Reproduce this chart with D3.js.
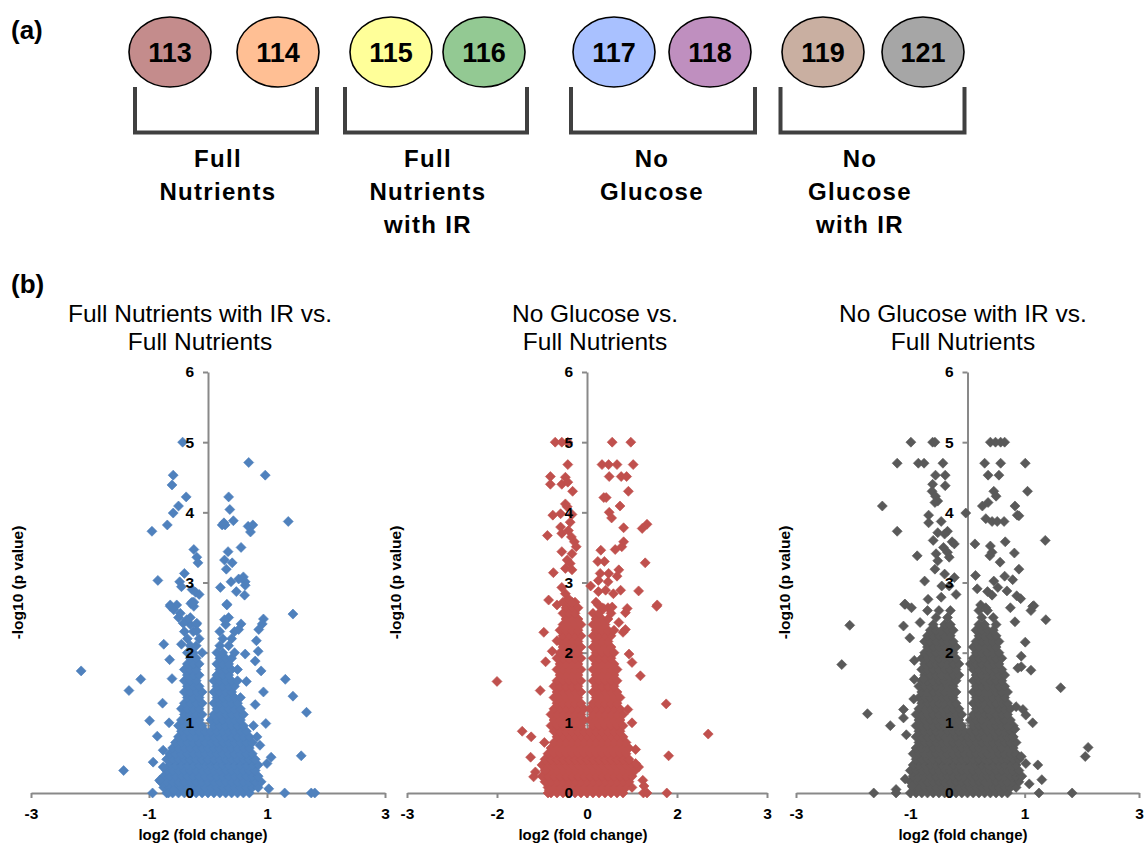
<!DOCTYPE html>
<html>
<head>
<meta charset="utf-8">
<script src="https://cdn.jsdelivr.net/npm/d3@7"></script>
<style>
body { margin: 0; background: #fff; }
text { font-family: "Liberation Sans", Arial, sans-serif; fill: #000; }
</style>
</head>
<body>
<svg id="fig"></svg>
<script>
var width = 1145;
var height = 845;

// (a) labelling scheme
var tagIds = ["113", "114", "115", "116", "117", "118", "119", "121"];
var tagColors = ["#c48c8c", "#ffbf94", "#ffff99", "#93c993", "#a9c1ff", "#bf8fbf", "#c9afa1", "#a6a6a6"];
var groupNames = [["Full", "Nutrients"], ["Full", "Nutrients", "with IR"], ["No", "Glucose"], ["No", "Glucose", "with IR"]];

// (b) volcano plots
var panelTitles = [["Full Nutrients with IR vs.", "Full Nutrients"], ["No Glucose vs.", "Full Nutrients"], ["No Glucose with IR vs.", "Full Nutrients"]];
var panelColors = ["#4f81bd", "#c0504d", "#595959"];
var xTicks = [[-3, -1, 1, 3], [-3, -1.5, 0, 1.5, 3], [-3, -1, 1, 3]];
var yTicks = [0, 1, 2, 3, 4, 5, 6];
var xTitle = "log2 (fold change)";
var yTitle = "-log10 (p value)";

// dense core of each plot, one row per -log10 p level: [y, x, x, ...]
var fnIrRows = [
  [0.00, -0.7,-0.6,-0.5,-0.4,-0.3,-0.2,-0.1,0,0.1,0.2,0.3,0.4,0.5,0.6,0.7],
  [0.08, -0.75,-0.65,-0.55,-0.45,-0.35,-0.25,-0.15,-0.05,0.05,0.15,0.25,0.35,0.45,0.55,0.65,0.75,0.85],
  [0.16, -0.8,-0.7,-0.6,-0.5,-0.4,-0.3,-0.2,-0.1,0,0.1,0.2,0.3,0.4,0.5,0.6,0.7,0.8,0.9],
  [0.24, -0.75,-0.65,-0.55,-0.45,-0.35,-0.25,-0.15,-0.05,0.05,0.15,0.25,0.35,0.45,0.55,0.65,0.75,0.85],
  [0.32, -0.7,-0.6,-0.5,-0.4,-0.3,-0.2,-0.1,0,0.1,0.2,0.3,0.4,0.5,0.6,0.7,0.8],
  [0.40, -0.65,-0.55,-0.45,-0.35,-0.25,-0.15,-0.05,0.05,0.15,0.25,0.35,0.45,0.55,0.65,0.75,0.85],
  [0.48, -0.7,-0.6,-0.5,-0.4,-0.3,-0.2,-0.1,0,0.1,0.2,0.3,0.4,0.5,0.6,0.7,0.8],
  [0.56, -0.65,-0.55,-0.45,-0.35,-0.25,-0.15,-0.05,0.05,0.15,0.25,0.35,0.45,0.55,0.65,0.75],
  [0.64, -0.6,-0.5,-0.4,-0.3,-0.2,-0.1,0,0.1,0.2,0.3,0.4,0.5,0.6,0.7],
  [0.72, -0.55,-0.45,-0.35,-0.25,-0.15,-0.05,0.05,0.15,0.25,0.35,0.45,0.55,0.65,0.75],
  [0.80, -0.5,-0.4,-0.3,-0.2,-0.1,0,0.1,0.2,0.3,0.4,0.5,0.6,0.7],
  [0.88, -0.45,-0.35,-0.25,-0.15,-0.05,0.05,0.15,0.25,0.35,0.45,0.55,0.65],
  [0.96, -0.5,-0.4,-0.3,-0.2,-0.1,0.1,0.2,0.3,0.4,0.5,0.6],
  [1.04, -0.45,-0.35,-0.25,-0.15,0.05,0.15,0.25,0.35,0.45,0.55],
  [1.12, -0.4,-0.3,-0.2,-0.1,0.1,0.2,0.3,0.4,0.5,0.6],
  [1.20, -0.45,-0.35,-0.25,-0.15,0.15,0.25,0.35,0.45,0.55],
  [1.28, -0.4,-0.3,-0.2,-0.1,0.1,0.2,0.3,0.4,0.5],
  [1.36, -0.35,-0.25,-0.15,0.15,0.25,0.35,0.45,0.55],
  [1.44, -0.4,-0.3,-0.2,-0.1,0.1,0.2,0.3,0.4],
  [1.52, -0.35,-0.25,-0.15,0.15,0.25,0.35,0.45],
  [1.60, -0.4,-0.3,-0.2,0.1,0.2,0.3,0.4,0.5],
  [1.68, -0.35,-0.25,-0.15,0.15,0.25,0.35],
  [1.76, -0.4,-0.3,-0.2,0.2,0.3,0.4,0.5],
  [1.84, -0.35,-0.25,-0.15,0.15,0.25,0.35],
  [1.92, -0.3,-0.2,0.2,0.3,0.4],
  [2.00, -0.35,-0.25,-0.1,0.15,0.25,0.45],
  [2.10, -0.3,-0.2,0.2,0.35],
  [2.20, -0.35,-0.15,0.25,0.4],
  [2.30, -0.4,-0.25,0.2,0.45],
  [2.40, -0.3,-0.2,0.3],
  [2.50, -0.5,-0.3,0.35]
];
// scattered proteins: [x, y]
var fnIrPoints = [
  [-0.43,5.0],[-0.59,4.53],[-0.61,4.39],[-0.37,4.22],[-0.50,4.09],[-0.59,3.99],[-0.69,3.82],[-0.95,3.73],
  [-0.24,3.47],[-0.19,3.36],[-0.17,3.28],[-0.85,3.03],[-0.40,3.13],[-0.48,3.01],[-0.45,2.94],[-0.27,2.90],
  [-0.21,2.86],[-0.15,2.83],[-0.64,2.68],[-0.53,2.68],[-0.29,2.70],[-0.24,2.66],
  [0.69,4.71],[0.97,4.53],[0.35,4.22],[0.37,4.04],[1.36,3.87],[0.24,3.82],[0.29,3.82],[0.27,3.85],
  [0.43,3.88],[0.68,3.80],[0.76,3.82],[0.72,3.72],[0.56,3.50],[0.34,3.44],[0.28,3.32],[0.41,3.28],
  [0.31,3.19],[0.21,2.93],[0.39,3.01],[0.52,3.05],[0.60,3.08],[0.63,3.01],[0.63,2.96],[0.48,2.87],
  [0.62,2.82],[0.32,2.68],
  [-2.15,1.74],[-1.14,1.62],[-1.34,1.46],[-1.43,0.32],[-0.94,0],[1.44,2.55],[1.31,1.62],[1.44,1.38],
  [1.67,1.15],[1.58,0.53],[1.30,0],[1.75,0],[1.81,0],[1.07,0.51],[0.98,0.99],[0.94,1.44],[0.90,1.74],
  [0.80,1.88],[0.85,2.02],[0.82,2.17],[0.94,2.48],[0.92,2.41],[0.86,2.33],[0.56,2.41],[0.52,2.33],
  [0.32,2.69],[0.28,2.47],[0.63,1.98],[0.65,1.59],[0.80,1.26],[0.77,0.96],[0.83,0.80],[0.88,0.68],
  [1.0,0.42],[1.03,0.06],
  [-0.75,2.12],[-0.65,1.90],[-0.45,2.12],[-0.61,1.63],[-0.77,1.28],[-0.99,1.03],[-0.66,1.0],[-0.86,0.81],
  [-0.76,0.61],[-0.93,0.44],[-0.76,0.37],[-0.82,0.18],[-0.67,0],[-0.58,0.04],[-0.64,2.66],[-0.58,2.61],
  [-0.47,2.56],[-0.36,2.47],[-0.42,2.42],[-0.19,2.42],[-0.19,2.31],[-0.27,2.72],[-0.24,2.72]
];

var ngRows = [
  [0.00, -0.6,-0.5,-0.4,-0.3,-0.2,-0.1,0,0.1,0.2,0.3,0.4,0.5,0.6],
  [0.08, -0.65,-0.55,-0.45,-0.35,-0.25,-0.15,-0.05,0.05,0.15,0.25,0.35,0.45,0.55,0.65,0.75],
  [0.16, -0.7,-0.6,-0.5,-0.4,-0.3,-0.2,-0.1,0,0.1,0.2,0.3,0.4,0.5,0.6,0.7],
  [0.24, -0.75,-0.65,-0.55,-0.45,-0.35,-0.25,-0.15,-0.05,0.05,0.15,0.25,0.35,0.45,0.55,0.65,0.75],
  [0.32, -0.7,-0.6,-0.5,-0.4,-0.3,-0.2,-0.1,0,0.1,0.2,0.3,0.4,0.5,0.6,0.7,0.8],
  [0.40, -0.75,-0.65,-0.55,-0.45,-0.35,-0.25,-0.15,-0.05,0.05,0.15,0.25,0.35,0.45,0.55,0.65,0.75],
  [0.48, -0.7,-0.6,-0.5,-0.4,-0.3,-0.2,-0.1,0,0.1,0.2,0.3,0.4,0.5,0.6,0.7],
  [0.56, -0.65,-0.55,-0.45,-0.35,-0.25,-0.15,-0.05,0.05,0.15,0.25,0.35,0.45,0.55,0.65],
  [0.64, -0.6,-0.5,-0.4,-0.3,-0.2,-0.1,0,0.1,0.2,0.3,0.4,0.5,0.6,0.7],
  [0.72, -0.55,-0.45,-0.35,-0.25,-0.15,-0.05,0.05,0.15,0.25,0.35,0.45,0.55,0.65],
  [0.80, -0.5,-0.4,-0.3,-0.2,-0.1,0,0.1,0.2,0.3,0.4,0.5,0.6],
  [0.88, -0.55,-0.45,-0.35,-0.25,-0.15,-0.05,0.05,0.15,0.25,0.35,0.45,0.55],
  [0.96, -0.6,-0.5,-0.4,-0.3,-0.2,-0.1,0.1,0.2,0.3,0.4,0.5,0.6],
  [1.04, -0.55,-0.45,-0.35,-0.25,-0.15,-0.05,0.05,0.15,0.25,0.35,0.45,0.55],
  [1.12, -0.6,-0.5,-0.4,-0.3,-0.2,-0.1,0.1,0.2,0.3,0.4,0.5,0.6],
  [1.20, -0.55,-0.45,-0.35,-0.25,-0.15,-0.05,0.05,0.15,0.25,0.35,0.45,0.55],
  [1.28, -0.5,-0.4,-0.3,-0.2,-0.1,0.1,0.2,0.3,0.4,0.5],
  [1.36, -0.55,-0.45,-0.35,-0.25,-0.15,0.15,0.25,0.35,0.45,0.55],
  [1.44, -0.5,-0.4,-0.3,-0.2,-0.1,0.1,0.2,0.3,0.4,0.5],
  [1.52, -0.55,-0.45,-0.35,-0.25,-0.15,0.15,0.25,0.35,0.45],
  [1.60, -0.5,-0.4,-0.3,-0.2,-0.1,0.1,0.2,0.3,0.4,0.5],
  [1.68, -0.45,-0.35,-0.25,-0.15,0.15,0.25,0.35,0.45],
  [1.76, -0.5,-0.4,-0.3,-0.2,-0.1,0.1,0.2,0.3,0.4,0.5],
  [1.84, -0.45,-0.35,-0.25,-0.15,0.15,0.25,0.35,0.45],
  [1.92, -0.5,-0.4,-0.3,-0.2,-0.1,0.1,0.2,0.3,0.4],
  [2.00, -0.45,-0.35,-0.25,-0.15,0.15,0.25,0.35,0.45],
  [2.08, -0.4,-0.3,-0.2,-0.1,0.1,0.2,0.3,0.4],
  [2.16, -0.45,-0.35,-0.25,-0.15,0.15,0.25,0.35],
  [2.24, -0.4,-0.3,-0.2,-0.1,0.1,0.2,0.3,0.4],
  [2.32, -0.45,-0.35,-0.25,-0.15,0.15,0.25,0.35,0.45],
  [2.40, -0.4,-0.3,-0.2,-0.1,0.1,0.2,0.3],
  [2.48, -0.35,-0.25,-0.15,0.15,0.25,0.35],
  [2.56, -0.4,-0.3,-0.2,0.1,0.2,0.4],
  [2.64, -0.35,-0.25,-0.15,0.25,0.35],
  [2.72, -0.4,-0.3,-0.2,0.15]
];
var ngPoints = [
  [-0.53,5],[-0.42,5],[-0.32,5],[-0.32,4.68],[-0.61,4.51],[-0.61,4.40],[-0.42,4.40],[-0.36,4.50],
  [-0.32,4.43],[-0.24,4.30],[-0.36,4.12],[-0.33,4.08],[-0.57,3.96],[-0.44,3.98],[-0.25,3.97],[-0.28,3.86],
  [-0.44,3.79],[-0.31,3.74],[-0.42,3.70],[-0.26,3.65],[-0.66,3.67],[-0.21,3.58],[-0.18,3.51],[-0.42,3.44],
  [-0.25,3.41],[-0.33,3.32],[-0.28,3.27],[-0.36,3.20],[-0.25,3.18],[-0.56,3.14],[-0.42,2.93],[-0.36,2.84],
  [-0.31,2.77],[-0.25,2.72],[-0.64,2.75],[-0.5,2.68],[0.06,2.95],
  [0.42,5],[0.73,5],[0.25,4.68],[0.36,4.68],[0.5,4.68],[0.77,4.68],[0.37,4.51],[0.57,4.51],[0.66,4.51],
  [0.69,4.30],[0.28,4.21],[0.32,4.21],[0.55,4.09],[0.37,4.0],[0.41,3.92],[0.61,3.78],[1.0,3.83],
  [0.92,3.77],[0.61,3.58],[0.58,3.51],[0.47,3.47],[0.23,3.46],[0.18,3.30],[0.29,3.30],[0.97,3.28],
  [0.53,3.18],[0.5,3.09],[0.22,3.13],[0.36,3.13],[0.19,3.03],[0.35,3.01],[0.31,2.89],[0.19,2.87],
  [0.44,2.84],[0.56,2.89],[0.86,2.88],[1.16,2.66],[0.19,2.68],[0.28,2.63],[0.42,2.65],[0.67,2.63],
  [-1.5,1.59],[-0.78,1.46],[-1.08,0.88],[-0.93,0.80],[-0.71,0.72],[-0.94,0.51],[-0.72,2.29],[-0.69,1.87],
  [-0.58,2.02],[-0.5,2.17],[1.17,2.68],[1.32,1.27],[2.02,0.84],[1.36,0.53],[1.33,0],[0.94,0],[1.0,0],
  [0.93,0.18],[0.95,0.10],[0.81,0.62],[0.89,1.67],[0.75,1.86],[0.70,1.98],[0.64,2.57],[0.53,2.43],
  [0.64,2.33],[0.6,2.29],[0.68,1.19],[0.86,0.37],[0.81,0.42],[0.75,1.0],[-0.69,0.33],[-0.86,0.30],
  [-0.89,0.23],[-0.65,0],[-0.63,0.04]
];

var ngIrRows = [
  [0.00, -0.9,-0.8,-0.7,-0.6,-0.5,-0.4,-0.3,-0.2,-0.1,0,0.1,0.2,0.3,0.4,0.5,0.6,0.7],
  [0.08, -0.95,-0.85,-0.75,-0.65,-0.55,-0.45,-0.35,-0.25,-0.15,-0.05,0.05,0.15,0.25,0.35,0.45,0.55,0.65,0.75,0.85],
  [0.16, -1,-0.9,-0.8,-0.7,-0.6,-0.5,-0.4,-0.3,-0.2,-0.1,0,0.1,0.2,0.3,0.4,0.5,0.6,0.7,0.8,0.9],
  [0.24, -0.95,-0.85,-0.75,-0.65,-0.55,-0.45,-0.35,-0.25,-0.15,-0.05,0.05,0.15,0.25,0.35,0.45,0.55,0.65,0.75,0.85,0.95],
  [0.32, -1,-0.9,-0.8,-0.7,-0.6,-0.5,-0.4,-0.3,-0.2,-0.1,0,0.1,0.2,0.3,0.4,0.5,0.6,0.7,0.8,0.9],
  [0.40, -0.95,-0.85,-0.75,-0.65,-0.55,-0.45,-0.35,-0.25,-0.15,-0.05,0.05,0.15,0.25,0.35,0.45,0.55,0.65,0.75,0.85],
  [0.48, -0.9,-0.8,-0.7,-0.6,-0.5,-0.4,-0.3,-0.2,-0.1,0,0.1,0.2,0.3,0.4,0.5,0.6,0.7,0.8,0.9],
  [0.56, -0.95,-0.85,-0.75,-0.65,-0.55,-0.45,-0.35,-0.25,-0.15,-0.05,0.05,0.15,0.25,0.35,0.45,0.55,0.65,0.75,0.85],
  [0.64, -0.9,-0.8,-0.7,-0.6,-0.5,-0.4,-0.3,-0.2,-0.1,0,0.1,0.2,0.3,0.4,0.5,0.6,0.7,0.8],
  [0.72, -0.85,-0.75,-0.65,-0.55,-0.45,-0.35,-0.25,-0.15,-0.05,0.05,0.15,0.25,0.35,0.45,0.55,0.65,0.75,0.85],
  [0.80, -0.9,-0.8,-0.7,-0.6,-0.5,-0.4,-0.3,-0.2,-0.1,0,0.1,0.2,0.3,0.4,0.5,0.6,0.7,0.8],
  [0.88, -0.85,-0.75,-0.65,-0.55,-0.45,-0.35,-0.25,-0.15,-0.05,0.05,0.15,0.25,0.35,0.45,0.55,0.65,0.75],
  [0.96, -0.9,-0.8,-0.7,-0.6,-0.5,-0.4,-0.3,-0.2,-0.1,0.1,0.2,0.3,0.4,0.5,0.6,0.7,0.8],
  [1.04, -0.85,-0.75,-0.65,-0.55,-0.45,-0.35,-0.25,-0.15,0.05,0.15,0.25,0.35,0.45,0.55,0.65,0.75],
  [1.12, -0.9,-0.8,-0.7,-0.6,-0.5,-0.4,-0.3,-0.2,-0.1,0.1,0.2,0.3,0.4,0.5,0.6,0.7],
  [1.20, -0.85,-0.75,-0.65,-0.55,-0.45,-0.35,-0.25,-0.15,0.15,0.25,0.35,0.45,0.55,0.65,0.75],
  [1.28, -0.8,-0.7,-0.6,-0.5,-0.4,-0.3,-0.2,0.1,0.2,0.3,0.4,0.5,0.6,0.7],
  [1.36, -0.85,-0.75,-0.65,-0.55,-0.45,-0.35,-0.25,0.15,0.25,0.35,0.45,0.55,0.65],
  [1.44, -0.8,-0.7,-0.6,-0.5,-0.4,-0.3,-0.2,0.1,0.2,0.3,0.4,0.5,0.6,0.7],
  [1.52, -0.85,-0.75,-0.65,-0.55,-0.45,-0.35,-0.25,0.15,0.25,0.35,0.45,0.55,0.65],
  [1.60, -0.8,-0.7,-0.6,-0.5,-0.4,-0.3,-0.2,0.1,0.2,0.3,0.4,0.5,0.6],
  [1.68, -0.75,-0.65,-0.55,-0.45,-0.35,-0.25,-0.15,0.15,0.25,0.35,0.45,0.55,0.65],
  [1.76, -0.8,-0.7,-0.6,-0.5,-0.4,-0.3,-0.2,0.1,0.2,0.3,0.4,0.5,0.6],
  [1.84, -0.75,-0.65,-0.55,-0.45,-0.35,-0.25,-0.15,0.05,0.15,0.25,0.35,0.45,0.55],
  [1.92, -0.8,-0.7,-0.6,-0.5,-0.4,-0.3,-0.2,0.1,0.2,0.3,0.4,0.5,0.6],
  [2.00, -0.75,-0.65,-0.55,-0.45,-0.35,-0.25,0.15,0.25,0.35,0.45,0.55],
  [2.08, -0.7,-0.6,-0.5,-0.4,-0.3,-0.2,0.1,0.2,0.3,0.4,0.5],
  [2.16, -0.75,-0.65,-0.55,-0.45,-0.35,-0.25,0.15,0.25,0.35,0.45,0.55],
  [2.24, -0.7,-0.6,-0.5,-0.4,-0.3,0.2,0.3,0.4,0.5],
  [2.32, -0.65,-0.55,-0.45,-0.35,-0.25,0.15,0.25,0.35,0.45],
  [2.40, -0.6,-0.4,-0.3,0.2,0.3,0.5],
  [2.50, -0.55,-0.35,0.25,0.45],
  [2.60, -0.7,-0.5,-0.3,0.2,0.35]
];
var ngIrPoints = [
  [-0.99,5],[-0.61,5],[-0.57,5],[-1.23,4.70],[-0.86,4.70],[-0.76,4.70],[-0.43,4.70],[-0.56,4.53],
  [-0.39,4.53],[-0.61,4.40],[-0.39,4.38],[-0.62,4.30],[-0.56,4.23],[-0.52,4.16],[-0.57,4.14],[-1.49,4.09],
  [-0.03,3.99],[-0.68,3.96],[-0.68,3.85],[-0.46,3.87],[-1.23,3.73],[-0.35,3.73],[-0.40,3.69],[-0.52,3.71],
  [-0.60,3.60],[-0.27,3.58],[-0.23,3.55],[-0.42,3.50],[-0.35,3.43],[-0.55,3.41],[-0.52,3.31],[-0.32,3.36],
  [-0.88,3.38],[-0.57,3.19],[-0.40,3.12],[-0.23,3.07],[-0.45,2.95],[-0.32,2.95],[-0.75,3.02],[-0.2,2.83],
  [-0.69,2.76],[-0.46,2.79],[-1.10,2.69],[-0.98,2.64],
  [0.40,5],[0.49,5],[0.58,5],[0.65,5],[0.30,4.70],[0.58,4.70],[1.01,4.70],[0.36,4.53],[0.55,4.53],
  [0.46,4.30],[0.50,4.23],[1.05,4.30],[0.26,4.09],[0.36,4.14],[0.83,4.09],[0.32,3.91],[0.43,3.87],
  [0.52,3.87],[0.64,3.87],[0.87,3.96],[0.90,3.95],[1.36,3.60],[0.13,3.55],[0.40,3.52],[0.66,3.58],
  [0.43,3.43],[0.39,3.38],[0.82,3.42],[0.57,3.29],[0.90,3.19],[0.14,3.10],[0.65,3.09],[0.79,3.04],
  [0.46,3.02],[0.53,2.93],[0.17,2.91],[0.35,2.87],[0.43,2.82],[0.69,2.88],[0.86,2.81],[0.93,2.77],
  [1.16,2.67],[0.23,2.68],[0.32,2.64],[0.75,2.64],
  [-2.06,2.39],[-2.20,1.83],[-1.75,1.13],[-1.35,0.96],[-1.64,0],[-1.25,0.05],[-1.25,0],[-1.09,0.2],
  [-1.07,0.83],[-0.94,1.34],[-1.12,1.19],[-1.12,1.07],[-0.93,1.62],[-0.77,1.63],[-0.93,1.89],[-1.12,2.38],
  [-1.01,2.21],[-0.83,2.43],[-1.09,2.69],[1.37,2.47],[1.14,2.66],[1.11,2.6],[0.83,2.44],[1.01,2.15],
  [0.94,1.95],[1.11,1.75],[0.88,1.78],[0.94,1.80],[1.63,1.50],[1.14,1.0],[1.02,1.11],[0.97,1.19],
  [0.85,1.23],[0.83,0.91],[0.79,0.80],[2.11,0.65],[2.06,0.52],[1.23,0.40],[1.30,0.19],[1.25,0],
  [1.83,0],[1.02,0.42],[1.08,0.13],[0.85,0.55],[0.94,0.52],[-1.0,0.0],[-0.97,0.1]
];

var panelRows = [fnIrRows, ngRows, ngIrRows];
var panelPoints = [fnIrPoints, ngPoints, ngIrPoints];

function expandRows(rows) {
    var out = [];
    rows.forEach(function(r) {
        r.slice(1).forEach(function(x) { out.push([x, r[0]]); });
    });
    return out;
}

var svg = d3.select("#fig").attr("width", width).attr("height", height);

// ---------- (a) ----------
svg.append("text").attr("x", 11).attr("y", 39)
    .style("font-size", "26px").style("font-weight", "bold").text("(a)");

var ovalX = d3.scaleOrdinal().domain(tagIds).range([170, 278, 391, 484, 614, 710, 823, 923]);
var tagColor = d3.scaleOrdinal().domain(tagIds).range(tagColors);

var ovals = svg.append("g").selectAll("g")
    .data(tagIds)
    .enter().append("g")
    .attr("transform", function(d) { return "translate(" + ovalX(d) + ",52)"; });

ovals.append("ellipse")
    .attr("rx", 41).attr("ry", 35)
    .attr("fill", function(d) { return tagColor(d); })
    .attr("stroke", "#000").attr("stroke-width", 1.6);

ovals.append("text")
    .attr("text-anchor", "middle").attr("y", 10)
    .style("font-size", "27px").style("font-weight", "bold")
    .text(function(d) { return d; });

var bracketSpans = [[135, 317, 218], [345, 527, 428], [571, 755, 652], [780.5, 964.5, 860]];

svg.append("g").selectAll("path")
    .data(bracketSpans)
    .enter().append("path")
    .attr("d", function(d) { return "M" + d[0] + ",87V132.5H" + d[1] + "V87"; })
    .attr("fill", "none").attr("stroke", "#404040").attr("stroke-width", 4);

var names = svg.append("g").selectAll("text")
    .data(groupNames)
    .enter().append("text")
    .attr("text-anchor", "middle")
    .style("font-size", "24px").style("font-weight", "bold").style("letter-spacing", "1.3px");

names.selectAll("tspan")
    .data(function(d, i) { return d.map(function(s) { return {s: s, cx: bracketSpans[i][2]}; }); })
    .enter().append("tspan")
    .attr("x", function(d) { return d.cx; })
    .attr("y", function(d, j) { return 167 + j * 33; })
    .text(function(d) { return d.s; });

// ---------- (b) ----------
svg.append("text").attr("x", 11).attr("y", 293)
    .style("font-size", "26px").style("font-weight", "bold").text("(b)");

var panelRange = [[31, 385], [407, 767], [796, 1139]];
var titleCx = [200, 595, 963];
var yLabelX = [23, 401, 790];
var xLabelCx = [203, 583, 963];

var diamond = d3.symbol().type(d3.symbolSquare).size(50);

panelTitles.forEach(function(title, i) {
    var x = d3.scaleLinear().domain([-3, 3]).range(panelRange[i]);
    var y = d3.scaleLinear().domain([0, 6]).range([793, 372]);
    var g = svg.append("g");
    var fmt = function(d) { return d.toFixed(0); };

    var xAxis = d3.axisBottom(x).tickValues(xTicks[i]).tickSize(5).tickSizeOuter(0).tickPadding(10).tickFormat(fmt);
    var yAxis = d3.axisLeft(y).tickValues(yTicks).tickSize(5).tickSizeOuter(0).tickPadding(9).tickFormat(fmt);

    // axis lines under the points
    var gx = g.append("g").attr("transform", "translate(0," + y(0) + ")").call(xAxis);
    var gy = g.append("g").attr("transform", "translate(" + x(0) + ",0)").call(yAxis);
    [gx, gy].forEach(function(a) {
        a.selectAll("text").remove();
        a.select(".domain").attr("stroke", "#898989").attr("stroke-width", 2);
        a.selectAll(".tick line").attr("stroke", "#898989").attr("stroke-width", 2);
    });

    var pts = expandRows(panelRows[i]).concat(panelPoints[i]);
    g.append("g").selectAll("path")
        .data(pts)
        .enter().append("path")
        .attr("d", diamond)
        .attr("transform", function(d) { return "translate(" + x(d[0]) + "," + y(d[1]) + ") rotate(45)"; })
        .attr("fill", panelColors[i])
        .attr("stroke", panelColors[i])
        .attr("stroke-width", 0.6);

    // tick labels on top of the points
    var tx = g.append("g").attr("transform", "translate(0," + y(0) + ")").call(xAxis);
    var ty = g.append("g").attr("transform", "translate(" + x(0) + ",0)").call(yAxis);
    [tx, ty].forEach(function(a) {
        a.select(".domain").remove();
        a.selectAll(".tick line").remove();
        a.selectAll("text")
            .attr("fill", "#000")
            .style("font-family", "'Liberation Sans', Arial, sans-serif")
            .style("font-size", "15.5px").style("font-weight", "bold");
    });

    g.append("text")
        .attr("text-anchor", "middle")
        .style("font-size", "24.5px")
        .selectAll("tspan")
        .data(title)
        .enter().append("tspan")
        .attr("x", titleCx[i])
        .attr("y", function(d, j) { return 322 + j * 28; })
        .text(function(d) { return d; });

    g.append("text")
        .attr("text-anchor", "middle")
        .attr("transform", "translate(" + yLabelX[i] + "," + ((y(0) + y(6)) / 2) + ") rotate(-90)")
        .style("font-size", "15.5px").style("font-weight", "bold")
        .text(yTitle);

    g.append("text")
        .attr("text-anchor", "middle")
        .attr("x", xLabelCx[i]).attr("y", 840)
        .style("font-size", "15px").style("font-weight", "bold")
        .text(xTitle);
});
</script>
</body>
</html>
